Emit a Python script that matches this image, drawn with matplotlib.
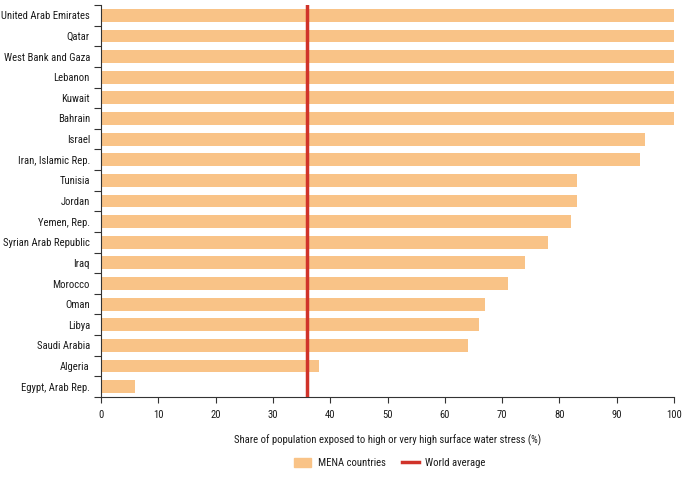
import numpy as np
import matplotlib.pyplot as plt
from matplotlib.patches import Patch
from matplotlib.lines import Line2D
from matplotlib import font_manager

countries = ['United Arab Emirates', 'Qatar', 'West Bank and Gaza', 'Lebanon', 'Kuwait',
             'Bahrain', 'Israel', 'Iran, Islamic Rep.', 'Tunisia', 'Jordan', 'Yemen, Rep.',
             'Syrian Arab Republic', 'Iraq', 'Morocco', 'Oman', 'Libya', 'Saudi Arabia',
             'Algeria', 'Egypt, Arab Rep.']
share = [100, 100, 100, 100, 100, 100, 95, 94, 83, 83, 82, 78, 74, 71, 67, 66, 64, 38, 6]
world_avg = 36

# condensed face if there is one
names = {f.name for f in font_manager.fontManager.ttflist}
fam = 'DejaVu Sans'
for c in ['Liberation Sans Narrow', 'Roboto Condensed', 'Open Sans Condensed']:
    if c in names:
        fam = c
        break
plt.rcParams['font.family'] = fam
plt.rcParams['font.stretch'] = 'condensed'

bar_col = '#F9C387'
line_col = '#D0332A'
txt_col = '#1a1a1a'

fig = plt.figure(figsize=(6.85, 4.78), dpi=100)
ax = fig.add_axes([101/685, 1 - 397/478, 573/685, 392/478])

# keep the longest label from running off the left edge
t = fig.text(0, 0, 'United Arab Emirates', fontsize=10)
w = t.get_window_extent(fig.canvas.get_renderer()).width
t.remove()
fs = min(9.2, 10 * 88 / w)

n = len(countries)
y = np.arange(n)[::-1]
ax.barh(y, share, height=0.62, color=bar_col, zorder=2)
ax.axvline(world_avg, color=line_col, lw=2.5, zorder=3)

ax.set_xlim(0, 100)
ax.set_ylim(-0.5, n - 0.5)
ax.set_xticks(np.arange(0, 101, 10))
ax.set_yticks(np.arange(n + 1) - 0.5)
ax.set_yticklabels([])
ax.set_yticks(y, minor=True)
ax.set_yticklabels(countries, minor=True)
ax.tick_params(axis='y', which='major', length=5, direction='out', color='#333333')
ax.tick_params(axis='y', which='minor', length=0, pad=8, labelsize=fs, labelcolor=txt_col)
ax.tick_params(axis='x', length=4, direction='out', labelsize=fs, pad=5, color='#333333',
               labelcolor=txt_col)
for s in ['top', 'right']:
    ax.spines[s].set_visible(False)
ax.spines['left'].set_color('#333333')
ax.spines['bottom'].set_color('#333333')

ax.set_xlabel('Share of population exposed to high or very high surface water stress (%)',
              fontsize=fs, labelpad=11, color=txt_col)

handles = [Patch(color=bar_col, label='MENA countries'),
           Line2D([0], [0], color=line_col, lw=2.5, label='World average')]
fig.legend(handles=handles, loc='center', bbox_to_anchor=(390/685, 1 - 463/478), ncol=2,
           frameon=False, fontsize=fs, handlelength=1.6, handleheight=1.0,
           columnspacing=1.5, handletextpad=0.6, labelcolor=txt_col)

fig.savefig('out.png', dpi=100)
